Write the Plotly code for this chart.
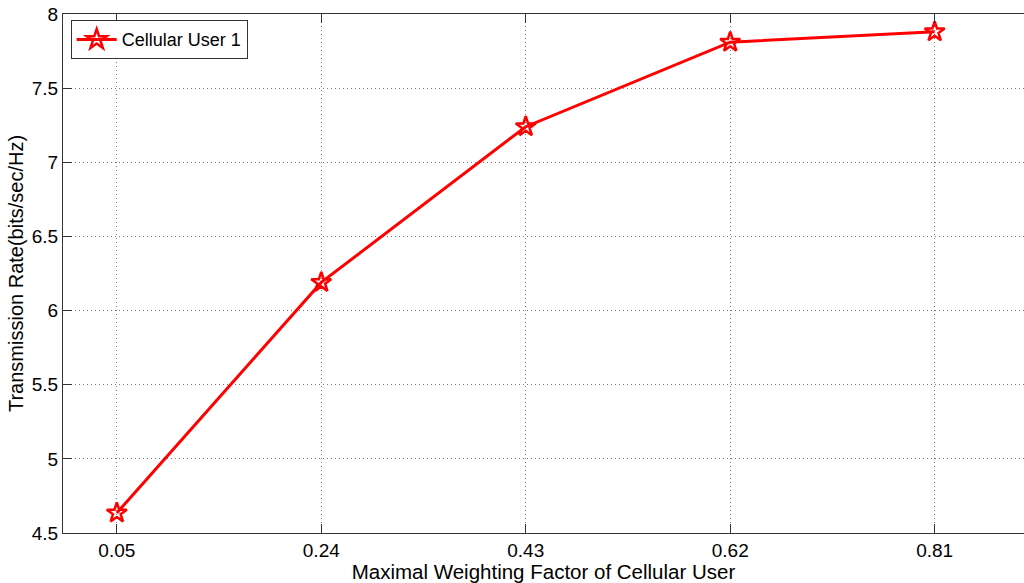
import plotly.graph_objects as go

# Maximal weighting factor vs. achieved rate
weighting = [0.05, 0.24, 0.43, 0.62, 0.81]
rate = [4.635, 6.19, 7.24, 7.81, 7.88]
x_ticks = [0.05, 0.24, 0.43, 0.62, 0.81]
x_tick_text = ["0.05", "0.24", "0.43", "0.62", "0.81"]
y_ticks = [4.5, 5, 5.5, 6, 6.5, 7, 7.5, 8]
y_tick_text = ["4.5", "5", "5.5", "6", "6.5", "7", "7.5", "8"]

font_family = "Liberation Sans, Arial, sans-serif"

fig = go.Figure()
fig.add_trace(go.Scatter(
    x=weighting, y=rate, mode="lines+markers", name="Cellular User 1",
    line=dict(color="#ff0000", width=3),
    marker=dict(symbol="star-open", size=15, color="#ff0000",
                line=dict(color="#ff0000", width=2.5)),
))

axis_common = dict(
    showgrid=True, gridcolor="#777777", griddash="1px,3px", gridwidth=1,
    showline=True, linecolor="#333333", linewidth=1,
    ticks="inside", ticklen=9, tickcolor="#333333",
    tickfont=dict(family=font_family, size=19, color="#000000"),
    zeroline=False,
)

fig.update_xaxes(
    range=[0, 0.893], tickvals=x_ticks, ticktext=x_tick_text, mirror="ticks",
    title=dict(text="Maximal Weighting Factor of Cellular User",
               font=dict(family=font_family, size=20.5, color="#000000"), standoff=0),
    **axis_common,
)
fig.update_yaxes(
    range=[4.5, 8], tickvals=y_ticks, ticktext=y_tick_text, mirror=False,
    title=dict(text="Transmission Rate(bits/sec/Hz)",
               font=dict(family=font_family, size=20, color="#000000"), standoff=2),
    **axis_common,
)

fig.update_layout(
    width=1024, height=583,
    margin=dict(l=63, r=0, t=14, b=50),
    paper_bgcolor="white", plot_bgcolor="white",
    showlegend=True,
    legend=dict(
        x=0.008, y=0.988, xanchor="left", yanchor="top",
        bgcolor="white", bordercolor="#333333", borderwidth=1,
        font=dict(family=font_family, size=18, color="#000000"),
        itemwidth=40, tracegroupgap=0,
    ),
)

fig.write_html("out.html")
